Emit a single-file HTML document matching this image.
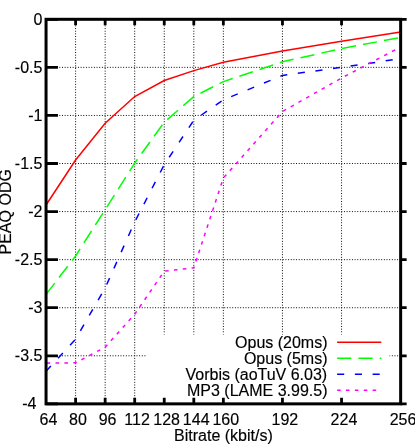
<!DOCTYPE html><html><head><meta charset="utf-8"><style>html,body{margin:0;padding:0;background:#fff}svg{display:block}text{font-family:"Liberation Sans",Arial,sans-serif;font-size:16px;fill:#000;stroke:#000;stroke-width:0.15px}</style></head><body>
<svg width="415" height="447" viewBox="0 0 415 447">
<rect width="415" height="447" fill="#fff"/>
<path d="M75.60,20.10V403.86M105.15,20.10V403.86M134.70,20.10V403.86M164.25,20.10V403.86M193.80,20.10V403.86M223.35,20.10V403.86M282.45,20.10V403.86M341.55,20.10V403.86M46.05,67.37H400.65M46.05,115.44H400.65M46.05,163.51H400.65M46.05,211.58H400.65M46.05,259.65H400.65M46.05,307.72H400.65M46.05,355.79H400.65" stroke="#000" stroke-width="1" stroke-dasharray="0.95 1.71" fill="none"/>
<rect x="147" y="334.5" width="242.5" height="70" fill="#fff"/>
<polyline points="46.05,205.00 75.60,160.00 105.15,123.20 134.70,96.50 164.25,80.50 193.80,70.60 223.35,62.30 282.45,50.90 341.55,41.30 400.65,32.00" stroke="#ff0000" stroke-width="1.5" fill="none"/>
<polyline points="46.05,294.40 75.60,256.00 105.15,209.60 134.70,163.10 164.25,122.20 193.80,96.60 223.35,81.60 282.45,61.80 341.55,48.60 400.65,37.40" stroke="#00ff00" stroke-width="1.5" fill="none" stroke-dasharray="14.2 7.1"/>
<polyline points="46.05,371.30 75.60,339.10 105.15,288.00 134.70,221.90 164.25,164.70 193.80,120.30 223.35,99.90 282.45,75.40 341.55,67.40 400.65,58.60" stroke="#0000ff" stroke-width="1.5" fill="none" stroke-dasharray="7.1 10.65"/>
<polyline points="46.05,363.10 75.60,362.80 105.15,347.20 134.70,314.20 164.25,271.20 193.80,267.80 223.35,178.00 282.45,111.50 341.55,78.00 400.65,47.00" stroke="#ff00ff" stroke-width="1.5" fill="none" stroke-dasharray="3.55 5.325" stroke-dashoffset="-0.6"/>
<path d="M75.60,19.30v6M75.60,403.86v-6M105.15,19.30v6M105.15,403.86v-6M134.70,19.30v6M134.70,403.86v-6M164.25,19.30v6M164.25,403.86v-6M193.80,19.30v6M193.80,403.86v-6M223.35,19.30v6M223.35,403.86v-6M282.45,19.30v6M282.45,403.86v-6M341.55,19.30v6M341.55,403.86v-6M46.05,19.30h11.9M400.65,19.30h6M46.05,67.37h11.9M400.65,67.37h6M46.05,115.44h11.9M400.65,115.44h6M46.05,163.51h11.9M400.65,163.51h6M46.05,211.58h11.9M400.65,211.58h6M46.05,259.65h11.9M400.65,259.65h6M46.05,307.72h11.9M400.65,307.72h6M46.05,355.79h11.9M400.65,355.79h6M46.05,403.86h11.9M400.65,403.86h6" stroke="#000" stroke-width="2.8" fill="none"/>
<rect x="46.05" y="19.30" width="354.60" height="384.56" fill="none" stroke="#000" stroke-width="3"/>
<text x="42.4" y="24.70" text-anchor="end">0</text>
<text x="42.4" y="72.77" text-anchor="end">-0.5</text>
<text x="42.4" y="120.84" text-anchor="end">-1</text>
<text x="42.4" y="168.91" text-anchor="end">-1.5</text>
<text x="42.4" y="216.98" text-anchor="end">-2</text>
<text x="42.4" y="265.05" text-anchor="end">-2.5</text>
<text x="42.4" y="313.12" text-anchor="end">-3</text>
<text x="42.4" y="361.19" text-anchor="end">-3.5</text>
<text x="36.4" y="409.26" text-anchor="end">-4</text>
<text x="48.45" y="424.5" text-anchor="middle">64</text>
<text x="78.00" y="424.5" text-anchor="middle">80</text>
<text x="107.55" y="424.5" text-anchor="middle">96</text>
<text x="137.10" y="424.5" text-anchor="middle">112</text>
<text x="166.65" y="424.5" text-anchor="middle">128</text>
<text x="196.20" y="424.5" text-anchor="middle">144</text>
<text x="225.75" y="424.5" text-anchor="middle">160</text>
<text x="284.85" y="424.5" text-anchor="middle">192</text>
<text x="343.95" y="424.5" text-anchor="middle">224</text>
<text x="403.05" y="424.5" text-anchor="middle">256</text>
<text x="223.4" y="441" text-anchor="middle">Bitrate (kbit/s)</text>
<text transform="translate(11.0,211.8) rotate(-90)" text-anchor="middle">PEAQ ODG</text>
<text x="327.5" y="347.70" text-anchor="end">Opus (20ms)</text>
<path d="M337.1,342.2H381.3" stroke="#ff0000" stroke-width="1.5" fill="none"/>
<text x="327.5" y="363.70" text-anchor="end">Opus (5ms)</text>
<path d="M337.1,358.2H381.3" stroke="#00ff00" stroke-width="1.5" fill="none" stroke-dasharray="14.2 7.1"/>
<text x="327.2" y="379.70" text-anchor="end">Vorbis (aoTuV 6.03)</text>
<path d="M337.1,374.2H381.3" stroke="#0000ff" stroke-width="1.5" fill="none" stroke-dasharray="7.1 10.65"/>
<text x="327.5" y="395.70" text-anchor="end">MP3 (LAME 3.99.5)</text>
<path d="M337.1,390.2H381.3" stroke="#ff00ff" stroke-width="1.5" fill="none" stroke-dasharray="3.55 5.325"/>
</svg></body></html>
